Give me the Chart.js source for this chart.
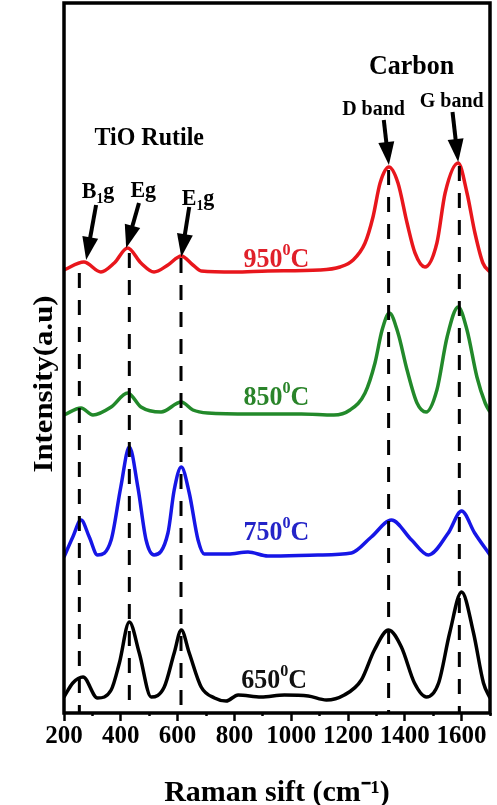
<!DOCTYPE html>
<html>
<head>
<meta charset="utf-8">
<script src="https://cdn.jsdelivr.net/npm/chart.js@4.4.1/dist/chart.umd.min.js"></script>
<style>
  html, body { margin: 0; padding: 0; background: #fff; }
  #wrap { width: 497px; height: 805px; position: relative; }
</style>
</head>
<body>
<div id="wrap"><canvas id="c"></canvas></div>
<script>
// ---- data (Raman shift in cm-1, intensity in a.u.) ----
const wn950 = [200,270,330,377,424,471,517,566,613,654,683,800,918,1100,1172,1218,1260,1288,1313,1344,1376,1408,1436,1471,1513,1542,1588,1619,1647,1675,1700];
const int950 = [443,451,441,450,465,450,441,448,457,448,442,441,442,443,446,453,470,496,530,546,530,490,460,446,470,520,550,520,480,450,441];

const wn850 = [200,260,302,366,424,471,542,613,654,706,860,1036,1150,1207,1260,1295,1320,1346,1376,1408,1443,1475,1513,1549,1588,1619,1654,1683,1700];
const int850 = [298,305,298,306,320,306,301,311,303,300,299,299,298,303,320,350,383,400,380,343,310,301,323,376,406,383,336,310,301];

const wn750 = [200,231,260,289,318,366,400,430,460,489,517,566,588,613,641,672,694,778,848,918,1094,1212,1282,1353,1424,1483,1553,1600,1646,1700];
const int750 = [156,176,193,176,158,173,226,266,226,173,158,180,223,246,220,173,159,159,161,157,158,160,176,193,173,158,180,202,180,158];

const wn650 = [200,231,267,318,366,395,430,465,507,553,588,613,641,683,730,771,813,894,976,1060,1124,1187,1247,1293,1343,1388,1434,1476,1519,1558,1600,1642,1677,1700];
const int650 = [16,30,36,15,23,50,91,60,16,26,60,83,60,26,15,12,18,16,18,17,13,18,33,63,83,66,30,16,30,80,121,80,30,15];

// peak marker lines (Raman shift) and the intensity where each dashed line starts
const peakLines = [254, 430, 612, 1343, 1592];
const peakLineTop = [440, 460, 455, 543, 547];

// arrows: [tail shift, tail intensity, tip shift, tip intensity]
const arrows = [
  [313, 508, 278, 453],
  [464, 510, 419, 465],
  [641, 506, 613, 456],
  [1326, 593, 1344, 548],
  [1568, 601, 1588, 551]
];

// x-axis range and tick step
const xMin = 200, xMax = 1700, xStep = 100;
const yMin = 0, yMax = 710;

// text annotations (segments: k = 'sup' | 'sub')
const labels = [
  { segs: [{t:'Carbon'}], x: 1424, y: 639, size: 26, color: '#000' },
  { segs: [{t:'D band'}], x: 1290, y: 598, size: 20, color: '#000' },
  { segs: [{t:'G band'}], x: 1565, y: 606, size: 20, color: '#000' },
  { segs: [{t:'TiO Rutile'}], x: 500, y: 568, size: 24, color: '#000' },
  { segs: [{t:'B'},{t:'1',k:'sub'},{t:'g'}], x: 320, y: 515, size: 22, color: '#000' },
  { segs: [{t:'Eg'}], x: 479, y: 516, size: 22, color: '#000' },
  { segs: [{t:'E'},{t:'1',k:'sub'},{t:'g'}], x: 672, y: 508, size: 22, color: '#000' },
  { segs: [{t:'950'},{t:'0',k:'sup'},{t:'C'}], x: 948, y: 446, size: 26, color: '#e0202a' },
  { segs: [{t:'850'},{t:'0',k:'sup'},{t:'C'}], x: 948, y: 308, size: 26, color: '#2a842a' },
  { segs: [{t:'750'},{t:'0',k:'sup'},{t:'C'}], x: 948, y: 173, size: 26, color: '#2424c8' },
  { segs: [{t:'650'},{t:'0',k:'sup'},{t:'C'}], x: 940, y: 25, size: 26, color: '#111' },
  { segs: [{t:'.'}], x: -66, y: 655, size: 12, color: '#444' }
];

const FONT = '"Liberation Serif", "Times New Roman", serif';

function toXY(xs, ys) { return xs.map((v, i) => ({ x: v, y: ys[i] })); }

function drawRich(ctx, segs, cx, by, size, color, sy) {
  ctx.save();
  ctx.fillStyle = color;
  ctx.textBaseline = 'alphabetic';
  ctx.textAlign = 'left';
  const f = s => 'bold ' + s + 'px ' + FONT;
  let total = 0;
  const parts = segs.map(s => {
    const sz = s.k ? size * 0.62 : size;
    ctx.font = f(sz);
    const w = ctx.measureText(s.t).width;
    total += w;
    return { t: s.t, k: s.k, sz: sz, w: w };
  });
  ctx.translate(cx, by);
  ctx.scale(1, sy);
  let xx = -total / 2;
  parts.forEach(p => {
    ctx.font = f(p.sz);
    const dy = p.k === 'sup' ? -size * 0.42 : (p.k === 'sub' ? size * 0.2 : 0);
    ctx.fillText(p.t, xx, dy);
    xx += p.w;
  });
  ctx.restore();
}

const annotPlugin = {
  id: 'annot',
  afterDatasetsDraw(chart) {
    const { ctx, scales: { x, y } } = chart;
    arrows.forEach(a => {
      const x1 = x.getPixelForValue(a[0]), y1 = y.getPixelForValue(a[1]);
      const x2 = x.getPixelForValue(a[2]), y2 = y.getPixelForValue(a[3]);
      const ang = Math.atan2(y2 - y1, x2 - x1);
      const hl = 23, hw = 8;
      const c = Math.cos(ang), s = Math.sin(ang);
      const bx = x2 - hl * c, by = y2 - hl * s;
      ctx.save();
      ctx.strokeStyle = '#000';
      ctx.lineWidth = 4;
      ctx.beginPath(); ctx.moveTo(x1, y1); ctx.lineTo(bx + 2 * c, by + 2 * s); ctx.stroke();
      ctx.fillStyle = '#000';
      ctx.beginPath();
      ctx.moveTo(x2, y2);
      ctx.lineTo(bx - hw * s, by + hw * c);
      ctx.lineTo(bx + hw * s, by - hw * c);
      ctx.closePath();
      ctx.fill();
      ctx.restore();
    });
  },
  afterDraw(chart) {
    const { ctx, chartArea: ca, scales: { x, y } } = chart;
    // frame
    ctx.save();
    ctx.strokeStyle = '#000';
    ctx.lineWidth = 3.5;
    ctx.strokeRect(ca.left, ca.top, ca.right - ca.left, ca.bottom - ca.top);
    ctx.restore();
    // annotations
    labels.forEach(l => {
      drawRich(ctx, l.segs, x.getPixelForValue(l.x), y.getPixelForValue(l.y), l.size, l.color, 1.08);
    });
    // y-axis title
    ctx.save();
    ctx.translate(ca.left - 12, (ca.top + ca.bottom) / 2 + 26);
    ctx.rotate(-Math.PI / 2);
    ctx.scale(1.1, 1);
    ctx.font = 'bold 28px ' + FONT;
    ctx.fillStyle = '#000';
    ctx.textAlign = 'center';
    ctx.textBaseline = 'alphabetic';
    ctx.fillText('Intensity(a.u)', 0, 0);
    ctx.restore();
  }
};

const lineDs = (label, xs, ys, color) => ({
  label: label,
  data: toXY(xs, ys),
  borderColor: color,
  borderWidth: 3.5,
  pointRadius: 0,
  fill: false,
  cubicInterpolationMode: 'monotone',
  order: 2
});

const dashDs = peakLines.map((v, i) => ({
  label: 'peak ' + v,
  data: [{ x: v, y: peakLineTop[i] }, { x: v, y: yMin }],
  borderColor: '#000',
  borderWidth: 3,
  borderDash: [15, 12],
  pointRadius: 0,
  fill: false,
  order: 1
}));

new Chart(document.getElementById('c'), {
  type: 'line',
  data: {
    datasets: [
      lineDs('950 °C', wn950, int950, '#e8161c'),
      lineDs('850 °C', wn850, int850, '#22892a'),
      lineDs('750 °C', wn750, int750, '#1616e6'),
      lineDs('650 °C', wn650, int650, '#000000'),
      ...dashDs
    ]
  },
  options: {
    responsive: true,
    maintainAspectRatio: false,
    animation: false,
    layout: { padding: { left: 0, right: 7, top: 3, bottom: 0 } },
    plugins: { legend: { display: false }, tooltip: { enabled: false }, title: { display: false } },
    scales: {
      x: {
        type: 'linear',
        min: xMin, max: xMax,
        ticks: {
          stepSize: xStep,
          autoSkip: false,
          maxRotation: 0,
          padding: 1,
          color: '#000',
          font: { family: FONT, weight: 'bold', size: 25 },
          callback: v => (v % 200 === 0 && v <= 1600) ? String(v) : ''
        },
        grid: {
          drawOnChartArea: false,
          drawTicks: true,
          tickLength: 8,
          tickWidth: 2.5,
          tickColor: '#000',
          tickBorderDash: ctx => (ctx.tick && ctx.tick.value % 200 !== 0) ? [3, 30] : []
        },
        border: { display: false },
        title: {
          display: true,
          text: 'Raman sift (cm⁻¹)',
          color: '#000',
          font: { family: FONT, weight: 'bold', size: 30 },
          padding: { top: 0, bottom: -6 }
        },
        afterFit: s => { s.height = 92; }
      },
      y: {
        min: yMin, max: yMax,
        ticks: { display: false },
        grid: { display: false },
        border: { display: false },
        afterFit: s => { s.width = 64; }
      }
    }
  },
  plugins: [annotPlugin]
});
</script>
</body>
</html>
